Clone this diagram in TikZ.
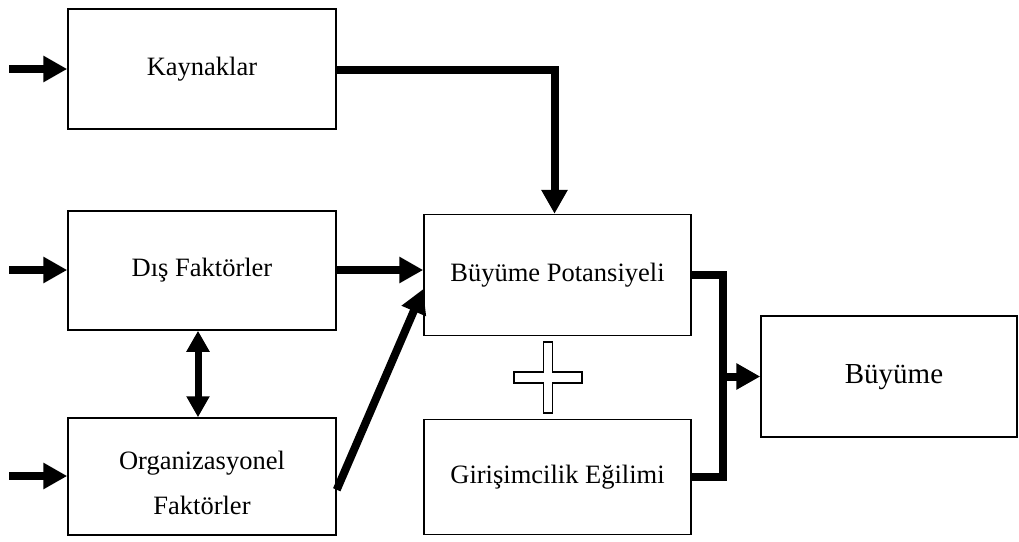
\documentclass[tikz,border=0pt]{standalone}
\usepackage{fontspec}
\setmainfont{Liberation Serif}
\usetikzlibrary{arrows.meta,calc}
\tikzset{
  box/.style={draw, line width=1.5pt, rectangle, inner sep=0pt, align=center,
    font=\fontsize{26.5}{45}\selectfont},
  flow/.style={line width=8pt, -{Triangle[length=24pt,width=25pt]}},
  both/.style={line width=7pt, {Triangle[length=21pt,width=22pt]}-{Triangle[length=21pt,width=22pt]}},
  bar/.style={line width=8pt, miter limit=10},
}
\begin{document}
\begin{tikzpicture}[x=1pt,y=-1pt]
\useasboundingbox (0,0) rectangle (1019,541);
\node[box, minimum width=268pt, minimum height=120pt] (k) at (202,69) {Kaynaklar};
\node[box, minimum width=268pt, minimum height=119pt] (d) at (202,270.5) {Dış Faktörler};
\node[box, minimum width=268pt, minimum height=117pt] (o) at (202,476.5) {};
\node[font=\fontsize{26.5}{45}\selectfont, align=center, inner sep=0pt] (ot) at (202,483) {Organizasyonel\\Faktörler};
\node[box, minimum width=267pt, minimum height=121pt] (bp) at (557.5,275) {Büyüme Potansiyeli};
\node[box, minimum width=267pt, minimum height=115pt] (g) at (557.5,477) {Girişimcilik Eğilimi};
\node[box, minimum width=256pt, minimum height=121pt] (bu) at (889,376.5) {};
\node[font=\fontsize{29}{35}\selectfont, inner sep=0pt] (bt) at (894,377) {Büyüme};
% inputs
\coordinate (i1) at (9,69);
\coordinate (i2) at (9,270);
\coordinate (i3) at (9,476);
\draw[flow] (i1) -- (k.west);
\draw[flow] (i2) -- (i2 -| d.west);
\draw[flow] (i3) -- (i3 -| o.west);
% to potential
\coordinate (kn) at ($(bp.north)+(-3,0)$);
\draw[flow] (k.east |- 0,70) -| (kn);
\draw[flow] (d.east |- 0,270) -- (bp.west |- 0,270);
\coordinate (os) at ($(o.south east)+(0,-46)$);
\coordinate (bw) at ($(bp.west)+(0,14)$);
\draw[flow] (os) -- (bw);
\draw[both] (d.south -| 198,0) -- (o.north -| 198,0);
% bracket
\coordinate (m) at (723,376.5);
\draw[bar] (bp.east) -| (m) |- (g.east);
\draw[flow] (m) -- (bu.west);
% plus
\draw[line width=1.5pt, fill=white]
  (543.5,342) -- (552.5,342) -- (552.5,372) -- (582,372) -- (582,383) -- (552.5,383)
  -- (552.5,413) -- (543.5,413) -- (543.5,383) -- (514,383) -- (514,372) -- (543.5,372) -- cycle;
\end{tikzpicture}
\end{document}
